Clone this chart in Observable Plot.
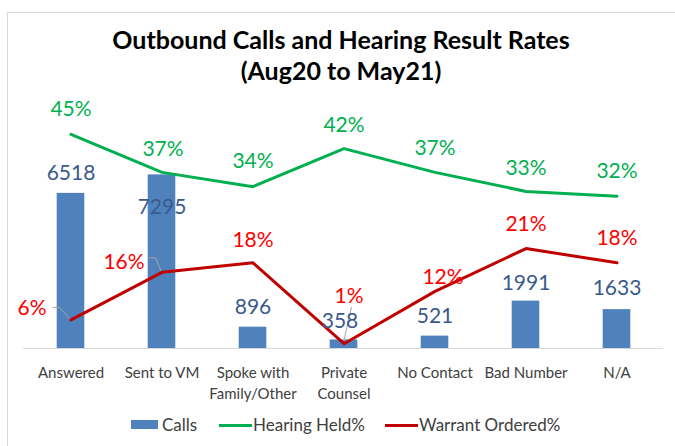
<!DOCTYPE html>
<html><head><meta charset="utf-8">
<script src="https://cdn.jsdelivr.net/npm/d3@7"></script>
<script src="https://cdn.jsdelivr.net/npm/@observablehq/plot@0.6"></script>
<style>
html,body{margin:0;padding:0;background:#fff;}
#wrap{position:relative;width:675px;height:446px;overflow:hidden;font-family:Lato,sans-serif;background:#fff;}
#frame{position:absolute;left:7px;top:12px;width:700px;height:500px;border-top:1px solid #d9d9d9;border-left:1px solid #d9d9d9;}
#title{position:absolute;left:7px;width:668px;top:24px;text-align:center;font-weight:bold;font-size:25px;line-height:31px;color:#000;}
#chart{position:absolute;left:0;top:95px;}
.lg{position:absolute;font-size:17px;color:#404040;line-height:20px;top:415px;white-space:nowrap;}
.sw{position:absolute;}
</style></head>
<body>
<div id="wrap">
  <div id="frame"></div>
  <div id="title">Outbound Calls and Hearing Result Rates<br>(Aug20 to May21)</div>
  <div id="chart"></div>
  <div class="sw" style="left:131px;top:420px;width:27px;height:9px;background:#4F81BD"></div>
  <div class="lg" style="left:162px">Calls</div>
  <div class="sw" style="left:219px;top:424px;width:33px;height:3px;background:#00B050"></div>
  <div class="lg" style="left:253px">Hearing Held%</div>
  <div class="sw" style="left:385px;top:424px;width:33px;height:3px;background:#C00000"></div>
  <div class="lg" style="left:419px">Warrant Ordered%</div>
</div>
<script>
const categories = ["Answered", "Sent to VM", "Spoke with\nFamily/Other", "Private\nCounsel", "No Contact", "Bad Number", "N/A"];
const calls = [6518, 7295, 896, 358, 521, 1991, 1633];
const hearingHeld = [45, 37, 34, 42, 37, 33, 32];
const warrantOrdered = [6, 16, 18, 1, 12, 21, 18];

// axis extents (primary: calls, secondary: percent)
const callsMax = 10000;
const pctMax = 50;
const pct = p => p * callsMax / pctMax;

// label nudges in pixels [dx, dy]
const callsNudge = [[0,-20],[0,32],[0,-20],[-4,-19],[0,-20],[0,-18],[0,-21]];
const hearingNudge = [[0,-25],[1,-23],[0,-25],[0,-23],[0,-24],[0,-23],[0,-25]];
const warrantNudge = [[-39,-12],[-38,-10],[0,-23],[5,-47],[8,-14],[0,-24],[0,-25]];
// leader lines (pixel offsets from point)
const leaders = [[0, [[-18,-12],[-11,-12],[-1,-1]]], [1, [[-13,-14],[-6,-14],[0,0]]], [3, [[8,-36],[0,-1]]]];

const rows = categories.map((c, i) => ({cat: c, calls: calls[i], hh: hearingHeld[i], wo: warrantOrdered[i]}));

const fontLbl = 21;
const labelMarks = [];
rows.forEach((r, i) => {
  labelMarks.push(Plot.text([r], {x: "cat", y: "calls", text: d => String(d.calls), fill: "#3A5A8C", fontSize: fontLbl, dx: callsNudge[i][0], dy: callsNudge[i][1]}));
  labelMarks.push(Plot.text([r], {x: "cat", y: d => pct(d.hh), text: d => d.hh + "%", fill: "#00B050", fontSize: fontLbl, dx: hearingNudge[i][0], dy: hearingNudge[i][1]}));
  labelMarks.push(Plot.text([r], {x: "cat", y: d => pct(d.wo), text: d => d.wo + "%", fill: "#FF0000", fontSize: fontLbl, dx: warrantNudge[i][0], dy: warrantNudge[i][1]}));
});

const leaderMark = (index, scales) => {
  const g = d3.create("svg:g");
  const bw = scales.x.bandwidth ? scales.x.bandwidth() / 2 : 0;
  for (const [i, pts] of leaders) {
    const x0 = scales.x(categories[i]) + bw;
    const y0 = scales.y(pct(warrantOrdered[i]));
    g.append("path")
      .attr("d", "M" + pts.map(([dx, dy]) => (x0 + dx) + "," + (y0 + dy)).join("L"))
      .attr("fill", "none").attr("stroke", "#a6a6a6").attr("stroke-width", 1);
  }
  return g.node();
};

const chart = Plot.plot({
  width: 675,
  height: 310,
  marginTop: 15,
  marginBottom: 57,
  marginLeft: 23,
  marginRight: 12,
  style: {fontFamily: "Lato, sans-serif", background: "transparent", overflow: "visible"},
  x: {domain: categories, padding: 0, axis: null},
  y: {domain: [0, callsMax], axis: null},
  marks: [
    Plot.ruleY([0], {stroke: "#d9d9d9", strokeWidth: 1}),
    Plot.barY(rows, {x: "cat", y: "calls", fill: "#4F81BD", insetLeft: 31.7, insetRight: 31.7}),
    Plot.text(rows, {x: "cat", y: 0, text: "cat", lineAnchor: "top", dy: 15, fontSize: 15, lineHeight: 1.4, fill: "#404040"}),
    leaderMark,
    Plot.lineY(rows, {x: "cat", y: d => pct(d.hh), stroke: "#00B050", strokeWidth: 3}),
    Plot.lineY(rows, {x: "cat", y: d => pct(d.wo), stroke: "#C00000", strokeWidth: 3}),
    ...labelMarks
  ]
});
document.getElementById("chart").appendChild(chart);
</script>
</body></html>
